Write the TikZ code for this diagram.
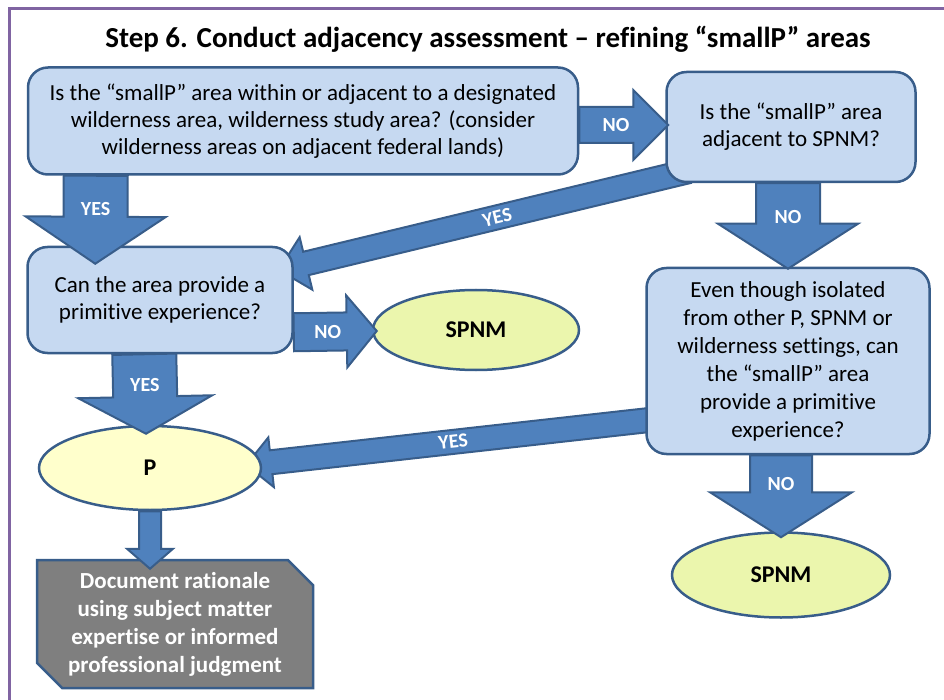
\documentclass[tikz,border=0pt]{standalone}
\usepackage{fontspec}
\setmainfont[Ligatures={TeX,NoCommon}]{Carlito}
\usepackage{tikz}
\usetikzlibrary{calc,shapes.geometric,shapes.misc,backgrounds}

\definecolor{boxfill}{RGB}{198,217,241}
\definecolor{boxline}{RGB}{56,93,138}
\definecolor{arrowfill}{RGB}{79,129,189}
\definecolor{pfill}{RGB}{255,255,204}
\definecolor{spnmfill}{RGB}{235,246,173}
\definecolor{docfill}{RGB}{127,127,127}
\definecolor{framecol}{RGB}{128,100,162}

\tikzset{
  qbox/.style={draw=boxline,fill=boxfill,line width=2.5pt,rounded corners=20pt,align=center,font=\fontsize{23}{27}\selectfont},
  endoval/.style={ellipse,draw=boxline,line width=2.5pt,font=\bfseries\fontsize{24}{28}\selectfont},
  docbox/.style={chamfered rectangle,chamfered rectangle corners={north east,south west},chamfered rectangle xsep=22pt,
    draw=boxline,fill=docfill,line width=2.5pt,text=white,align=center,font=\bfseries\fontsize{23}{28}\selectfont},
  arrowshape/.style={draw=boxline,fill=arrowfill,line width=2pt,line join=miter},
  arrowlab/.style={text=white,inner sep=0pt,font=\bfseries\fontsize{20}{22}\selectfont},
}

\newcommand{\blockarrow}[7]{%
  \coordinate (ah) at ($(#2)!#5pt!(#1)$);
  \draw[arrowshape] ($(#1)!#3pt!90:(#2)$) -- ($(ah)!#3pt!90:(#2)$) -- ($(ah)!#4pt!90:(#2)$) -- (#2)
    -- ($(ah)!#4pt!-90:(#2)$) -- ($(ah)!#3pt!-90:(#2)$) -- ($(#1)!#3pt!-90:(#2)$) -- cycle;
  \path (#1) -- (ah) node[arrowlab,#7] {#6};
}

\begin{document}
\begin{tikzpicture}[x=1pt,y=-1pt]
\useasboundingbox (0,0) rectangle (944,700);
\draw[framecol,line width=3pt] (9,700) -- (9,9) -- (944,9);
\node[anchor=base,font=\bfseries\fontsize{29}{34}\selectfont] (title) at (488,48) {Step 6. Conduct adjacency assessment -- refining “smallP” areas};

\node[qbox,minimum width=550pt,minimum height=107pt] (q1) at (303,121) {Is the “smallP” area within or adjacent to a designated\\ wilderness area, wilderness study area? (consider\\ wilderness areas on adjacent federal lands)};
\node[qbox,minimum width=249pt,minimum height=110pt] (q2) at (791,127) {Is the “smallP” area\\ adjacent to SPNM?};
\node[qbox,minimum width=265pt,minimum height=106pt] (q3) at (160,300) {Can the area provide a\\ primitive experience?};
\node[qbox,minimum width=283pt,minimum height=186pt,font=\fontsize{23}{28}\selectfont] (q4) at (788,361) {Even though isolated\\ from other P, SPNM or\\ wilderness settings, can\\ the “smallP” area\\ provide a primitive\\ experience?};
\node[endoval,fill=spnmfill,minimum width=206pt,minimum height=80pt] (spnmA) at (476,330) {SPNM};
\node[endoval,fill=pfill,minimum width=222pt,minimum height=84pt] (p) at (150,468) {P};
\node[endoval,fill=spnmfill,minimum width=218pt,minimum height=85pt] (spnmB) at (781,575) {SPNM};
\node[docbox,minimum width=276pt,minimum height=128pt] (doc) at (175,624) {Document rationale\\ using subject matter\\ expertise or informed\\ professional judgment};

\coordinate (noA-s) at ($(q1.east)+(0,4)$);
\coordinate (noA-t) at ($(q1.east -| q2.west)+(3,4)$);
\coordinate (yesA-s) at ($(q1.south west)+(69,0)$);
\coordinate (yesA-t) at ($(q3.north west)+(69,18)$);
\coordinate (yesB-s) at ($(q2.south west)+(23,-12)$);
\coordinate (yesB-t) at ($(q3.east)+(-15,-30)$);
\coordinate (noB-s) at ($(q3.south east)+(0,-22)$);
\coordinate (noB-t) at ($(spnmA.west)+(5,1)$);
\coordinate (yesC-s) at ($(q3.south west)+(118,0)$);
\coordinate (yesC-t) at ($(p.north)+(-4,9)$);
\coordinate (doc-s) at (p.south);
\coordinate (doc-t) at ($(p.south |- doc.north)+(0,10)$);
\coordinate (noC-s) at (q4.north |- q2.south);
\coordinate (noC-t) at ($(q4.north)+(0,2)$);
\coordinate (yesD-s) at ($(q4.west)+(13,58)$);
\coordinate (yesD-t) at ($(p.east)+(-16,-3)$);
\coordinate (noD-s) at (spnmB.north |- q4.south);
\coordinate (noD-t) at ($(spnmB.north)+(0,6)$);

\begin{scope}[on background layer]
\blockarrow{yesB-s}{yesB-t}{12}{27}{28}{YES}{pos=0.5,sloped}
\blockarrow{yesD-s}{yesD-t}{12}{25}{25}{YES}{pos=0.53,sloped}
\end{scope}

\foreach \nm/\w/\hw/\hl/\lab/\lp in {noA/18/35/35/NO/0.68,yesA/32/70/47/YES/0.8,noB/19/36/30/NO/0.64,
  yesC/32/67/37/YES/0.73,noC/32/70/45/NO/0.84,noD/31/71/45/NO/0.79}{
  \blockarrow{\nm-s}{\nm-t}{\w}{\hw}{\hl}{\lab}{pos=\lp}
}
\blockarrow{doc-s}{doc-t}{11}{23}{20}{}{}
\end{tikzpicture}
\end{document}
